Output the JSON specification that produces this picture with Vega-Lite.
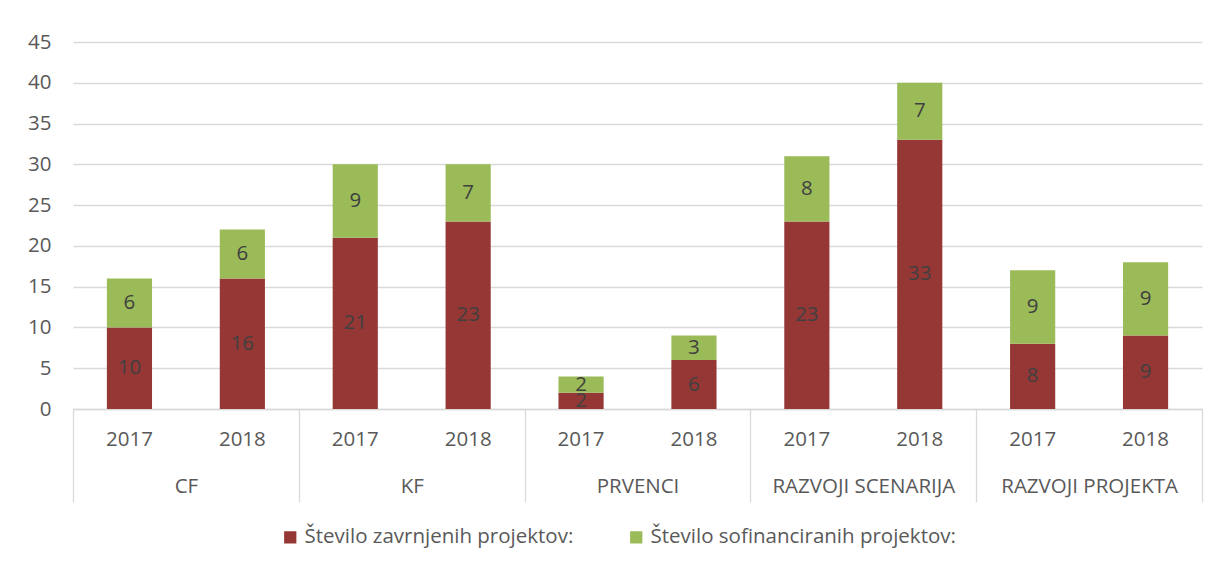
{
  "$schema": "https://vega.github.io/schema/vega-lite/v6.json",
  "width": 1129,
  "height": 367,
  "autosize": {"type": "none"},
  "padding": {"left": 73, "top": 42, "right": 19, "bottom": 160},
  "background": "white",
  "config": {
    "font": "Open Sans",
    "view": {"stroke": null},
    "axis": {"labelFont": "Open Sans", "labelFontSize": 20.5, "labelColor": "#595959"},
    "legend": {"labelFont": "Open Sans", "labelFontSize": 20.5, "labelColor": "#595959"}
  },
  "data": {
    "values": [
      {"cat": "CF", "key": "CF|2017", "series": "Število zavrnjenih projektov:", "value": 10},
      {"cat": "CF", "key": "CF|2017", "series": "Število sofinanciranih projektov:", "value": 6},
      {"cat": "CF", "key": "CF|2018", "series": "Število zavrnjenih projektov:", "value": 16},
      {"cat": "CF", "key": "CF|2018", "series": "Število sofinanciranih projektov:", "value": 6},
      {"cat": "KF", "key": "KF|2017", "series": "Število zavrnjenih projektov:", "value": 21},
      {"cat": "KF", "key": "KF|2017", "series": "Število sofinanciranih projektov:", "value": 9},
      {"cat": "KF", "key": "KF|2018", "series": "Število zavrnjenih projektov:", "value": 23},
      {"cat": "KF", "key": "KF|2018", "series": "Število sofinanciranih projektov:", "value": 7},
      {"cat": "PRVENCI", "key": "PRVENCI|2017", "series": "Število zavrnjenih projektov:", "value": 2},
      {"cat": "PRVENCI", "key": "PRVENCI|2017", "series": "Število sofinanciranih projektov:", "value": 2},
      {"cat": "PRVENCI", "key": "PRVENCI|2018", "series": "Število zavrnjenih projektov:", "value": 6},
      {"cat": "PRVENCI", "key": "PRVENCI|2018", "series": "Število sofinanciranih projektov:", "value": 3},
      {"cat": "RAZVOJI SCENARIJA", "key": "RAZVOJI SCENARIJA|2017", "series": "Število zavrnjenih projektov:", "value": 23},
      {"cat": "RAZVOJI SCENARIJA", "key": "RAZVOJI SCENARIJA|2017", "series": "Število sofinanciranih projektov:", "value": 8},
      {"cat": "RAZVOJI SCENARIJA", "key": "RAZVOJI SCENARIJA|2018", "series": "Število zavrnjenih projektov:", "value": 33},
      {"cat": "RAZVOJI SCENARIJA", "key": "RAZVOJI SCENARIJA|2018", "series": "Število sofinanciranih projektov:", "value": 7},
      {"cat": "RAZVOJI PROJEKTA", "key": "RAZVOJI PROJEKTA|2017", "series": "Število zavrnjenih projektov:", "value": 8},
      {"cat": "RAZVOJI PROJEKTA", "key": "RAZVOJI PROJEKTA|2017", "series": "Število sofinanciranih projektov:", "value": 9},
      {"cat": "RAZVOJI PROJEKTA", "key": "RAZVOJI PROJEKTA|2018", "series": "Število zavrnjenih projektov:", "value": 9},
      {"cat": "RAZVOJI PROJEKTA", "key": "RAZVOJI PROJEKTA|2018", "series": "Število sofinanciranih projektov:", "value": 9}
    ]
  },
  "layer": [
    {
      "layer": [
        {
          "mark": {"type": "bar"},
          "encoding": {
            "x": {
              "field": "key", "type": "nominal", "sort": null,
              "scale": {"paddingInner": 0.6, "paddingOuter": 0.3},
              "axis": {
                "title": null, "orient": "bottom", "labelAngle": 0, "ticks": false,
                "domainColor": "#d9d9d9", "domainWidth": 1.3, "labelPadding": 20,
                "labelExpr": "split(datum.label, '|')[1]", "grid": false
              }
            },
            "y": {
              "field": "value", "type": "quantitative", "stack": "zero",
              "scale": {"domain": [0, 45], "nice": false},
              "axis": {
                "title": null, "values": [0, 5, 10, 15, 20, 25, 30, 35, 40, 45],
                "domain": false, "ticks": false, "labelPadding": 22,
                "gridColor": "#d9d9d9", "gridWidth": 1.3
              }
            },
            "color": {
              "field": "series", "type": "nominal",
              "scale": {
                "domain": ["Število zavrnjenih projektov:", "Število sofinanciranih projektov:"],
                "range": ["#953735", "#9BBB59"]
              },
              "legend": {
                "title": null, "orient": "none", "legendX": 207, "legendY": 485,
                "direction": "horizontal",
                "symbolType": "square", "symbolSize": 150, "symbolStrokeWidth": 0,
                "labelLimit": 0, "columnPadding": 52, "symbolOpacity": 1
              }
            },
            "order": {"field": "series", "sort": "descending"}
          }
        },
        {
          "mark": {"type": "text", "fontSize": 20.5, "color": "#404040", "font": "Open Sans"},
          "encoding": {
            "x": {"field": "key", "type": "nominal", "sort": null},
            "y": {"field": "value", "type": "quantitative", "stack": "zero", "bandPosition": 0.5},
            "text": {"field": "value", "type": "quantitative"},
            "order": {"field": "series", "sort": "descending"},
            "detail": {"field": "series"}
          }
        }
      ]
    },
    {
      "mark": {"type": "rule", "opacity": 0},
      "encoding": {
        "x": {
          "field": "cat", "type": "nominal", "sort": null,
          "scale": {"paddingInner": 0, "paddingOuter": 0},
          "axis": {
            "title": null, "orient": "bottom", "labelAngle": 0, "domain": false,
            "ticks": true, "tickBand": "extent", "tickSize": 93, "tickColor": "#d9d9d9",
            "tickWidth": 1.3, "labelPadding": -26, "labelLimit": 0, "grid": false
          }
        }
      }
    }
  ],
  "resolve": {"scale": {"x": "independent"}, "axis": {"x": "independent"}}
}
